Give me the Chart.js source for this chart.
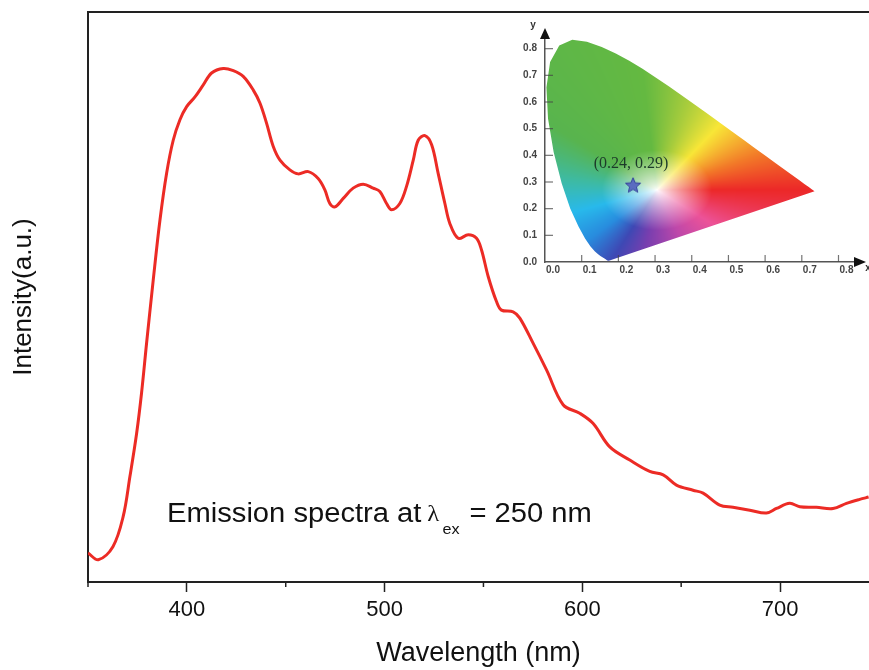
<!DOCTYPE html>
<html>
<head>
<meta charset="utf-8">
<script src="https://cdn.jsdelivr.net/npm/chart.js@4.4.0/dist/chart.umd.min.js"></script>
<style>
  html, body { margin: 0; padding: 0; background: #fff; }
  #wrap { position: relative; width: 869px; height: 670px; overflow: hidden; }
  #spectrum { position: absolute; left: 0; top: 0; }
  #cie { position: absolute; left: 500px; top: 15px; }
</style>
</head>
<body>
<div id="wrap">
  <canvas id="spectrum" width="869" height="670"></canvas>
  <canvas id="cie" width="369" height="267"></canvas>
</div>
<script>
// emission spectrum, excitation 250 nm
const wavelength = [350, 355.2, 362.6, 367.8, 371.2, 374.6, 377.1, 379.6, 383.0, 386.4,
  389.8, 393.1, 396.5, 399.9, 404.1, 408.3, 412.5, 418.4, 423.5, 428.5,
  433.6, 437.0, 440.3, 443.7, 447.1, 452.1, 456.3, 461.4, 466.4, 469.8,
  472.3, 474.9, 479.1, 484.1, 489.2, 494.2, 497.6, 501.0, 503.5, 507.7,
  511.1, 514.5, 517.0, 520.4, 523.8, 527.1, 530.5, 533.0, 537.2, 542.3,
  546.5, 549.0, 552.4, 556.6, 559.1, 565.0, 568.4, 575.1, 581.9, 590.3,
  598.7, 605.5, 613.9, 624.0, 634.1, 640.9, 647.6, 656.0, 661.1, 669.5,
  676.2, 684.7, 693.1, 698.2, 704.9, 710.0, 718.4, 726.8, 733.6, 740.3, 744.8];
const intensity = [5.1, 3.9, 6.2, 11.5, 18.5, 26.1, 33.2, 41.8, 53.0, 63.5,
  71.8, 77.5, 81.1, 83.4, 85.1, 87.2, 89.3, 90.1, 89.7, 88.7,
  86.3, 84.0, 80.5, 76.4, 74.0, 72.3, 71.6, 72.0, 70.8, 68.8,
  66.4, 65.8, 67.3, 69.1, 69.8, 69.1, 68.5, 66.4, 65.3, 66.4,
  69.4, 74.0, 77.5, 78.3, 76.7, 71.7, 66.4, 62.9, 60.3, 60.9,
  60.3, 58.3, 53.6, 49.2, 47.7, 47.4, 46.3, 41.9, 37.2, 31.1,
  29.6, 27.8, 23.7, 21.4, 19.4, 18.8, 17.0, 16.1, 15.6, 13.5,
  13.1, 12.6, 12.1, 12.9, 13.8, 13.2, 13.1, 12.9, 13.8, 14.5, 14.9];
const xMajorTicks = [400, 500, 600, 700];
const xMinorTicks = [350, 450, 550, 650];

// CIE 1931 spectral locus (380-700 nm)
const locusX = [0.1741, 0.1733, 0.1726, 0.1714, 0.1689, 0.1644, 0.1566, 0.1510, 0.1440, 0.1355,
  0.1241, 0.1096, 0.0913, 0.0687, 0.0454, 0.0235, 0.0082, 0.0039, 0.0139, 0.0389,
  0.0743, 0.1142, 0.1547, 0.1929, 0.2296, 0.2658, 0.3016, 0.3373, 0.3731, 0.4087,
  0.4441, 0.4788, 0.5125, 0.5448, 0.5752, 0.6029, 0.6270, 0.6658, 0.6915, 0.7079,
  0.7190, 0.7260, 0.7347];
const locusY = [0.0050, 0.0048, 0.0048, 0.0051, 0.0069, 0.0109, 0.0177, 0.0227, 0.0297, 0.0399,
  0.0578, 0.0868, 0.1327, 0.2007, 0.2950, 0.4127, 0.5384, 0.6548, 0.7502, 0.8120,
  0.8338, 0.8262, 0.8059, 0.7816, 0.7543, 0.7243, 0.6923, 0.6589, 0.6245, 0.5896,
  0.5547, 0.5202, 0.4866, 0.4544, 0.4242, 0.3965, 0.3725, 0.3340, 0.3083, 0.2920,
  0.2809, 0.2740, 0.2653];
const cieTicks = [0, 0.1, 0.2, 0.3, 0.4, 0.5, 0.6, 0.7, 0.8];
const cieX = [0.24];
const cieY = [0.29];

const FONT = '"Liberation Sans", Arial, sans-serif';

// frame, minor ticks and the excitation note
const spectrumDecor = {
  id: 'spectrumDecor',
  afterDraw(chart) {
    const {ctx, chartArea: a, scales: {x}} = chart;
    ctx.save();
    ctx.strokeStyle = '#222';
    ctx.lineWidth = 2;
    ctx.beginPath();
    ctx.moveTo(a.left - 1, a.top);
    ctx.lineTo(a.right, a.top);
    ctx.stroke();
    ctx.lineWidth = 1.5;
    xMinorTicks.forEach(v => {
      const px = x.getPixelForValue(v);
      ctx.beginPath();
      ctx.moveTo(px, a.bottom);
      ctx.lineTo(px, a.bottom + 5);
      ctx.stroke();
    });

    ctx.fillStyle = '#111';
    ctx.textBaseline = 'alphabetic';
    ctx.translate(167, 522);
    ctx.scale(1.08, 1);
    ctx.font = '27px ' + FONT;
    ctx.fillText('Emission spectra at', 0, 0);
    ctx.font = '23px "Liberation Serif", serif';
    ctx.fillText('λ', 241, -1);
    ctx.font = '15px ' + FONT;
    ctx.fillText('ex', 255, 12);
    ctx.font = '27px ' + FONT;
    ctx.fillText('= 250 nm', 280, 0);
    ctx.restore();
  }
};

new Chart(document.getElementById('spectrum'), {
  type: 'line',
  data: {
    datasets: [{
      data: wavelength.map((w, i) => ({x: w, y: intensity[i]})),
      borderColor: '#ec2b25',
      borderWidth: 3,
      pointRadius: 0,
      tension: 0.35,
      fill: false
    }]
  },
  options: {
    responsive: false,
    animation: false,
    events: [],
    layout: {padding: {top: 12, right: 0, left: 0, bottom: 0}},
    plugins: {legend: {display: false}, tooltip: {enabled: false}},
    scales: {
      x: {
        type: 'linear',
        min: 350,
        max: 745,
        afterBuildTicks: s => { s.ticks = xMajorTicks.map(v => ({value: v})); },
        afterFit: s => { s.height = 88; },
        grid: {display: true, drawOnChartArea: false, drawTicks: true, tickLength: 10, tickWidth: 1.5, tickColor: '#222'},
        border: {display: true, color: '#222', width: 2},
        ticks: {color: '#111', font: {family: FONT, size: 22}, padding: 5, maxRotation: 0},
        title: {display: true, text: 'Wavelength (nm)', color: '#111', font: {family: FONT, size: 27}, padding: {top: 0, bottom: 0}}
      },
      y: {
        min: 0,
        max: 100,
        afterFit: s => { s.width = 88; },
        grid: {display: false},
        border: {display: true, color: '#222', width: 2},
        ticks: {display: false},
        title: {display: true, text: 'Intensity(a.u.)', color: '#111', font: {family: FONT, size: 26}, padding: {top: 8, bottom: 0}}
      }
    }
  },
  plugins: [spectrumDecor]
});

// chromaticity colouring: hue around the white point, fading to white near it
const WHITE = [0.305, 0.27];
const HUES = [
  [0, [236, 40, 40]], [25, [242, 120, 40]], [55, [248, 230, 55]], [75, [170, 205, 60]],
  [95, [100, 185, 65]], [140, [88, 180, 78]], [170, [62, 186, 160]], [200, [40, 185, 235]],
  [225, [40, 140, 222]], [245, [62, 72, 180]], [262, [120, 62, 175]], [290, [190, 72, 170]],
  [320, [236, 82, 152]], [345, [236, 55, 82]], [360, [236, 40, 40]]
];
function gamutColor(x, y) {
  const dx = x - WHITE[0], dy = y - WHITE[1];
  let a = Math.atan2(dy, dx) * 180 / Math.PI;
  if (a < 0) a += 360;
  let k = 1;
  while (k < HUES.length - 1 && HUES[k][0] < a) k++;
  const [a0, c0] = HUES[k - 1], [a1, c1] = HUES[k];
  const t = (a - a0) / (a1 - a0);
  const s = Math.pow(Math.min(1, Math.hypot(dx, dy) / 0.15), 0.8);
  return c0.map((v, i) => {
    const h = v + (c1[i] - v) * t;
    return 255 + (h - 255) * s;
  });
}

function makeStar(size) {
  const c = document.createElement('canvas');
  c.width = c.height = size;
  const g = c.getContext('2d');
  const r = size / 2 - 1, ri = r * 0.45;
  g.beginPath();
  for (let k = 0; k < 10; k++) {
    const rad = k % 2 ? ri : r;
    const ang = -Math.PI / 2 + k * Math.PI / 5;
    g.lineTo(size / 2 + rad * Math.cos(ang), size / 2 + 1 + rad * Math.sin(ang));
  }
  g.closePath();
  g.fillStyle = '#5a6cc0';
  g.fill();
  g.strokeStyle = '#34449a';
  g.lineWidth = 1;
  g.stroke();
  return c;
}

const cieDecor = {
  id: 'cieDecor',
  beforeDatasetsDraw(chart) {
    const {ctx, chartArea: a, scales: {x, y}} = chart;
    const pts = chart.getDatasetMeta(0).data;
    const x0 = Math.floor(a.left), y0 = Math.floor(a.top);
    const w = Math.ceil(a.right) - x0, h = Math.ceil(a.bottom) - y0;
    const off = document.createElement('canvas');
    off.width = w; off.height = h;
    const octx = off.getContext('2d');
    const img = octx.createImageData(w, h);
    for (let j = 0; j < h; j++) {
      const cy = y.getValueForPixel(y0 + j + 0.5);
      for (let i = 0; i < w; i++) {
        const c = gamutColor(x.getValueForPixel(x0 + i + 0.5), cy);
        const p = (j * w + i) * 4;
        img.data[p] = c[0]; img.data[p + 1] = c[1]; img.data[p + 2] = c[2]; img.data[p + 3] = 255;
      }
    }
    octx.putImageData(img, 0, 0);
    ctx.save();
    ctx.beginPath();
    pts.forEach((p, k) => k ? ctx.lineTo(p.x, p.y) : ctx.moveTo(p.x, p.y));
    ctx.closePath();
    ctx.clip();
    ctx.drawImage(off, x0, y0);
    ctx.restore();

    // inward ticks, arrows and axis letters
    ctx.save();
    ctx.strokeStyle = 'rgba(70,70,70,0.75)';
    ctx.lineWidth = 1.2;
    cieTicks.slice(1).forEach(v => {
      const px = x.getPixelForValue(v), py = y.getPixelForValue(v);
      ctx.beginPath(); ctx.moveTo(px, a.bottom); ctx.lineTo(px, a.bottom - 7); ctx.stroke();
      ctx.beginPath(); ctx.moveTo(a.left, py); ctx.lineTo(a.left + 8, py); ctx.stroke();
    });
    ctx.fillStyle = '#111';
    ctx.beginPath();
    ctx.moveTo(a.left, a.top - 10); ctx.lineTo(a.left - 5, a.top + 1); ctx.lineTo(a.left + 5, a.top + 1);
    ctx.closePath(); ctx.fill();
    ctx.beginPath();
    ctx.moveTo(a.right + 11, a.bottom); ctx.lineTo(a.right - 1, a.bottom - 5); ctx.lineTo(a.right - 1, a.bottom + 5);
    ctx.closePath(); ctx.fill();
    ctx.font = 'bold 10px ' + FONT;
    ctx.fillStyle = '#333';
    ctx.textAlign = 'center';
    ctx.textBaseline = 'middle';
    ctx.fillText('y', a.left - 12, a.top - 13);
    ctx.fillText('x', a.right + 13, a.bottom + 6);
    ctx.restore();
  },
  afterDatasetsDraw(chart) {
    const {ctx, scales: {x, y}} = chart;
    ctx.save();
    ctx.font = '16px "Liberation Serif", serif';
    ctx.fillStyle = '#1d3b2a';
    ctx.textAlign = 'center';
    ctx.textBaseline = 'middle';
    ctx.fillText('(' + cieX[0].toFixed(2) + ', ' + cieY[0].toFixed(2) + ')',
      x.getPixelForValue(cieX[0]) - 2, y.getPixelForValue(cieY[0]) - 21);
    ctx.restore();
  }
};

const tickFont = {family: FONT, size: 10, weight: 'bold'};
new Chart(document.getElementById('cie'), {
  type: 'scatter',
  data: {
    datasets: [
      {data: locusX.map((v, i) => ({x: v, y: locusY[i]})), pointRadius: 0, showLine: false},
      {data: cieX.map((v, i) => ({x: v, y: cieY[i]})), pointStyle: makeStar(18), pointRadius: 8}
    ]
  },
  options: {
    responsive: false,
    animation: false,
    events: [],
    layout: {padding: {top: 23, right: 14, left: 0, bottom: 0}},
    plugins: {legend: {display: false}, tooltip: {enabled: false}},
    scales: {
      x: {
        type: 'linear', min: 0, max: 0.845,
        afterBuildTicks: s => { s.ticks = cieTicks.map(v => ({value: v})); },
        afterFit: s => { s.height = 20; },
        grid: {display: false, drawTicks: false},
        border: {display: true, color: '#555', width: 1.5},
        ticks: {color: '#444', font: tickFont, padding: 2, labelOffset: 8, maxRotation: 0, callback: v => v.toFixed(1)}
      },
      y: {
        min: 0, max: 0.84,
        afterBuildTicks: s => { s.ticks = cieTicks.map(v => ({value: v})); },
        afterFit: s => { s.width = 45; },
        grid: {display: false, drawTicks: false},
        border: {display: true, color: '#555', width: 1.5},
        ticks: {color: '#444', font: tickFont, padding: 8, callback: v => v.toFixed(1)}
      }
    }
  },
  plugins: [cieDecor]
});
</script>
</body>
</html>
